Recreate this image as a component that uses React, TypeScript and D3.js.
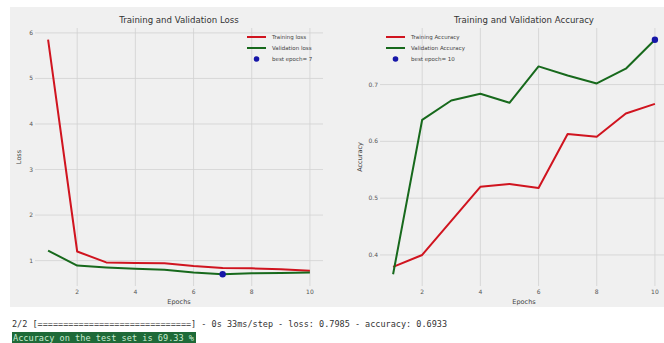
import React from "react";
import * as d3 from "d3";

// Training history, one value per epoch
const epochs = [1, 2, 3, 4, 5, 6, 7, 8, 9, 10];
const trainLoss = [5.85, 1.2, 0.96, 0.95, 0.94, 0.88, 0.84, 0.83, 0.81, 0.78];
const valLoss = [1.22, 0.89, 0.85, 0.82, 0.8, 0.74, 0.7, 0.72, 0.73, 0.74];
const trainAcc = [0.379, 0.4, 0.46, 0.52, 0.525, 0.518, 0.613, 0.608, 0.649, 0.666];
const valAcc = [0.366, 0.638, 0.672, 0.684, 0.668, 0.732, 0.716, 0.702, 0.728, 0.779];

const xTicks = [2, 4, 6, 8, 10];
const lossTicks = [1, 2, 3, 4, 5, 6];
const accTicks = [0.4, 0.5, 0.6, 0.7];

const consoleLine =
  "2/2 [==============================] - 0s 33ms/step - loss: 0.7985 - accuracy: 0.6933";
const testLine = "Accuracy on the test set is 69.33 %";

const W = 664;
const H = 343;
const FONT = "DejaVu Sans, sans-serif";
const RED = "#d0141f";
const GREEN = "#17691c";
const BLUE = "#1616a8";
const BG = "#f0f0f0";
const GRID = "#d2d2d2";

type PanelProps = {
  x0: number;
  x1: number;
  title: string;
  yLabel: string;
  train: number[];
  val: number[];
  trainName: string;
  valName: string;
  best: number;
  yTicks: number[];
  fmt: (v: number) => string;
  legendX: number;
  yLabelX: number;
};

function Panel(p: PanelProps) {
  const top = 28;
  const bottom = 286;
  const x = d3.scaleLinear().domain([0.55, 10.45]).range([p.x0, p.x1]);
  const all = p.train.concat(p.val);
  const lo = d3.min(all) as number;
  const hi = d3.max(all) as number;
  const pad = (hi - lo) * 0.05;
  const y = d3.scaleLinear().domain([lo - pad, hi + pad]).range([bottom, top]);
  const line = d3
    .line<number>()
    .x((_, i) => x(epochs[i]))
    .y((d) => y(d));
  const bestVal = p.val[p.best - 1];
  const lx = p.legendX;
  const rows = [37, 48, 59];
  return (
    <g>
      <defs>
        <clipPath id={"clip" + p.x0}>
          <rect x={p.x0} y={top} width={p.x1 - p.x0} height={bottom - top} />
        </clipPath>
      </defs>
      {/* grid */}
      {xTicks.map((t) => (
        <line key={"gx" + t} x1={x(t)} x2={x(t)} y1={top} y2={bottom} stroke={GRID} strokeWidth={0.8} />
      ))}
      {p.yTicks.map((t) => (
        <line key={"gy" + t} x1={p.x0} x2={p.x1} y1={y(t)} y2={y(t)} stroke={GRID} strokeWidth={0.8} />
      ))}
      {/* tick labels */}
      {xTicks.map((t) => (
        <text key={"tx" + t} x={x(t)} y={294} fontSize={6} fill="#555" textAnchor="middle" fontFamily={FONT}>
          {t}
        </text>
      ))}
      {p.yTicks.map((t) => (
        <text key={"ty" + t} x={p.x0 - 2} y={y(t) + 2} fontSize={6} fill="#555" textAnchor="end" fontFamily={FONT}>
          {p.fmt(t)}
        </text>
      ))}
      {/* axis labels and title */}
      <text x={(p.x0 + p.x1) / 2} y={304} fontSize={6.5} fill="#444" textAnchor="middle" fontFamily={FONT}>
        Epochs
      </text>
      <text
        transform={`translate(${p.yLabelX},${(top + bottom) / 2}) rotate(-90)`}
        fontSize={6.5}
        fill="#444"
        textAnchor="middle"
        fontFamily={FONT}
      >
        {p.yLabel}
      </text>
      <text x={(p.x0 + p.x1) / 2} y={23} fontSize={8.6} fill="#333" textAnchor="middle" fontFamily={FONT}>
        {p.title}
      </text>
      {/* series */}
      <g clipPath={`url(#clip${p.x0})`}>
        <path d={line(p.train) || ""} fill="none" stroke={RED} strokeWidth={2} strokeLinejoin="round" />
        <path d={line(p.val) || ""} fill="none" stroke={GREEN} strokeWidth={2} strokeLinejoin="round" />
      </g>
      <circle cx={x(p.best)} cy={y(bestVal)} r={3.2} fill={BLUE} />
      {/* legend */}
      <line x1={lx} x2={lx + 19} y1={rows[0]} y2={rows[0]} stroke={RED} strokeWidth={2} />
      <line x1={lx} x2={lx + 19} y1={rows[1]} y2={rows[1]} stroke={GREEN} strokeWidth={2} />
      <circle cx={lx + 9.5} cy={rows[2]} r={2.8} fill={BLUE} />
      <text x={lx + 25} y={rows[0] + 2} fontSize={5.5} fill="#444" fontFamily={FONT}>
        {p.trainName}
      </text>
      <text x={lx + 25} y={rows[1] + 2} fontSize={5.5} fill="#444" fontFamily={FONT}>
        {p.valName}
      </text>
      <text x={lx + 25} y={rows[2] + 2} fontSize={5.5} fill="#444" fontFamily={FONT}>
        {"best epoch= " + p.best}
      </text>
    </g>
  );
}

export default function App() {
  const bestLoss = d3.minIndex(valLoss) + 1;
  const bestAcc = d3.maxIndex(valAcc) + 1;
  return (
    <svg
      width={W}
      height={H}
      style={{ position: "absolute", left: 0, top: 0, background: "#fff" }}
    >
      <rect x={10} y={7} width={W - 10} height={300} fill={BG} />
      <Panel
        x0={35}
        x1={323}
        title="Training and Validation Loss"
        yLabel="Loss"
        train={trainLoss}
        val={valLoss}
        trainName="Training loss"
        valName="Validation loss"
        best={bestLoss}
        yTicks={lossTicks}
        fmt={(v) => String(v)}
        legendX={247}
        yLabelX={21}
      />
      <Panel
        x0={380}
        x1={668}
        title="Training and Validation Accuracy"
        yLabel="Accuracy"
        train={trainAcc}
        val={valAcc}
        trainName="Training Accuracy"
        valName="Validation Accuracy"
        best={bestAcc}
        yTicks={accTicks}
        fmt={(v) => v.toFixed(1)}
        legendX={386}
        yLabelX={362}
      />
      {/* console output below the figure */}
      <text
        x={12}
        y={327}
        fontSize={8.5}
        fill="#333"
        fontFamily="DejaVu Sans Mono, monospace"
        textLength={435}
        lengthAdjust="spacingAndGlyphs"
        xmlSpace="preserve"
      >
        {consoleLine}
      </text>
      <rect x={12} y={332} width={184} height={11} fill="#1e6a38" />
      <text
        x={13}
        y={340.5}
        fontSize={8.5}
        fill="#c8ead0"
        fontFamily="DejaVu Sans Mono, monospace"
        textLength={181}
        lengthAdjust="spacingAndGlyphs"
        xmlSpace="preserve"
      >
        {testLine}
      </text>
    </svg>
  );
}
